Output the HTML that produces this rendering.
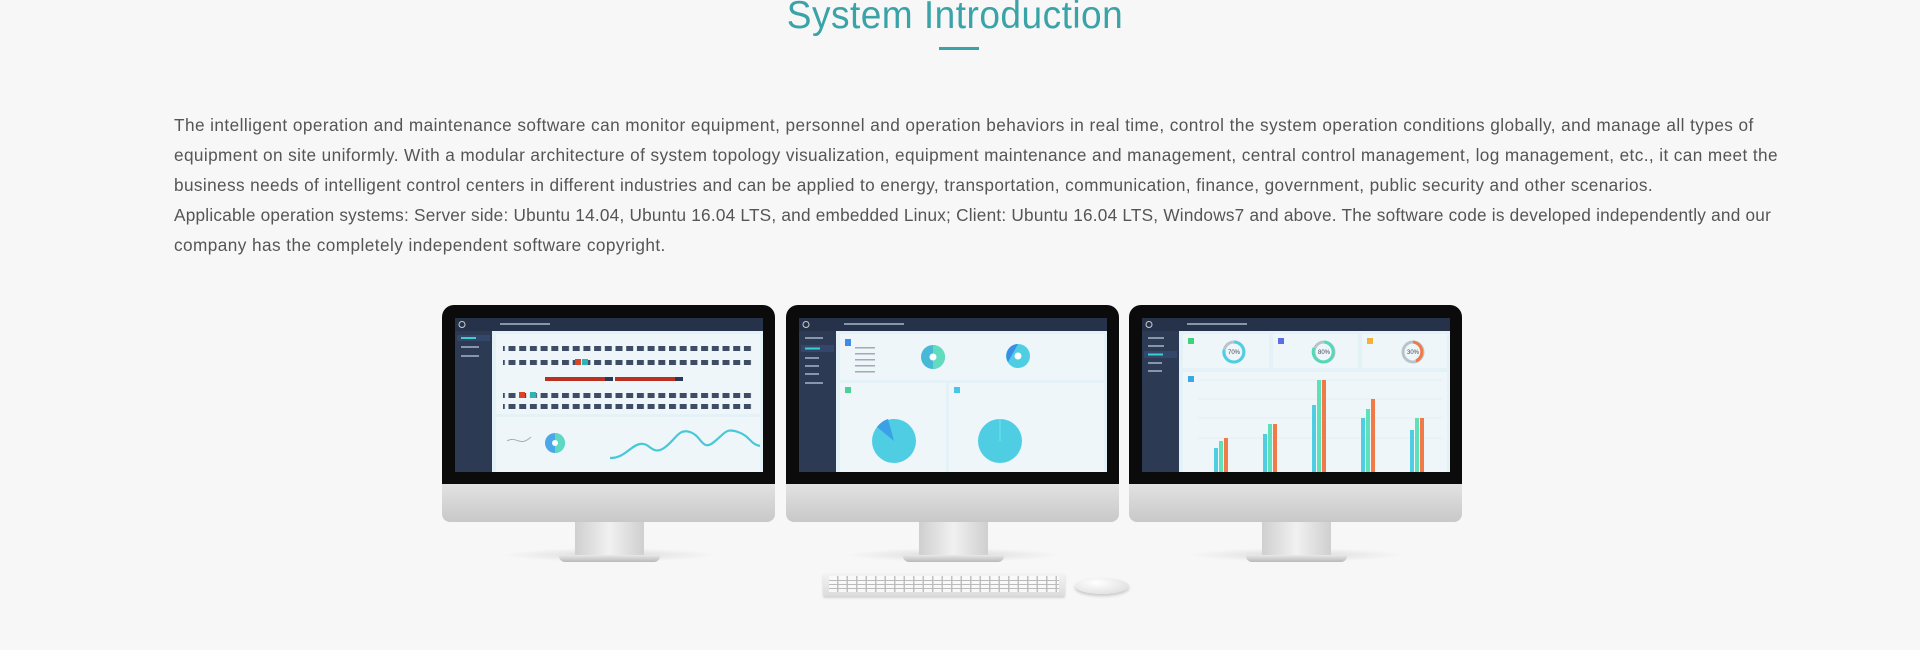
<!DOCTYPE html>
<html><head><meta charset="utf-8"><style>
*{margin:0;padding:0;box-sizing:border-box}
body{width:1920px;height:650px;background:#f7f7f7;position:relative;overflow:hidden;font-family:"Liberation Sans","Noto Sans CJK SC",sans-serif}
h1{position:absolute;left:0;width:1910px;top:-6px;text-align:center;font-weight:300;font-size:39px;color:#3aa3a8;letter-spacing:0.5px;font-family:"Liberation Sans",sans-serif;transform:scaleX(0.95)}
.ul{position:absolute;left:939px;top:47px;width:40px;height:3px;background:#3aa3a8}
.p{position:absolute;left:174px;top:110px;font-size:17.2px;line-height:30px;color:#555;white-space:nowrap}
.mon{position:absolute;top:305px;width:333px;height:260px}
.bez{position:absolute;left:0;top:0;width:333px;height:179px;background:#0b0b0c;border-radius:12px 12px 0 0}
.chin{position:absolute;left:0;top:179px;width:333px;height:38px;background:linear-gradient(#e2e2e2,#c8c8c8);border-radius:0 0 8px 8px}
.neck{position:absolute;left:133px;top:217px;width:69px;height:34px;background:linear-gradient(90deg,#cfcfcf,#f1f1f1 50%,#cfcfcf)}
.base{position:absolute;left:117px;top:250px;width:101px;height:7px;background:linear-gradient(#e8e8e8,#b9b9b9);border-radius:0 0 6px 6px}
.shadow{position:absolute;left:60px;top:243px;width:215px;height:14px;background:radial-gradient(ellipse,rgba(0,0,0,.12),rgba(0,0,0,0) 70%)}
.scr{position:absolute;left:13px;top:13px;width:308px;height:154px;background:#e4f1f7;overflow:hidden}
</style></head><body>
<h1>System Introduction</h1>
<div class="ul"></div>
<div class="p">
<div style="letter-spacing:0.44px">The intelligent operation and maintenance software can monitor equipment, personnel and operation behaviors in real time, control the system operation conditions globally, and manage all types of</div>
<div style="letter-spacing:0.40px">equipment on site uniformly. With a modular architecture of system topology visualization, equipment maintenance and management, central control management, log management, etc., it can meet the</div>
<div style="letter-spacing:0.39px">business needs of intelligent control centers in different industries and can be applied to energy, transportation, communication, finance, government, public security and other scenarios.</div>
<div style="letter-spacing:0.23px">Applicable operation systems: Server side: Ubuntu 14.04, Ubuntu 16.04 LTS, and embedded Linux; Client: Ubuntu 16.04 LTS, Windows7 and above. The software code is developed independently and our</div>
<div style="letter-spacing:0.44px">company has the completely independent software copyright.</div>
</div>

<!-- Monitor 1 -->
<div class="mon" style="left:442px">
<div class="shadow"></div>
<div class="bez"></div><div class="chin"></div><div class="neck"></div><div class="base"></div>
<div class="scr"><svg width="308" height="154" viewBox="0 0 308 154">
<rect width="308" height="13" fill="#26324a"/><rect y="13" width="37" height="141" fill="#2c3a54"/>
<circle cx="7" cy="6.5" r="3" fill="none" stroke="#ccc"/><rect x="45" y="5" width="50" height="2" fill="#8895aa"/>
<rect x="2" y="17" width="33" height="6" fill="#34476a"/><rect x="6" y="19" width="15" height="2" fill="#3ccfd0"/>
<rect x="6" y="28" width="18" height="2" fill="#8895aa"/><rect x="6" y="37" width="18" height="2" fill="#8895aa"/>
<rect x="41" y="16" width="264" height="80" fill="#eef6fa"/>
<defs><pattern id="r" width="10.7" height="5" patternUnits="userSpaceOnUse"><rect width="7" height="5" fill="#3e4c66"/></pattern></defs>
<rect x="48" y="28" width="250" height="5" fill="url(#r)"/>
<rect x="48" y="42" width="250" height="5" fill="url(#r)"/>
<rect x="48" y="75" width="250" height="5" fill="url(#r)"/>
<rect x="48" y="86" width="250" height="5" fill="url(#r)"/>
<rect x="120" y="41" width="6" height="6" fill="#d9452b"/><rect x="127" y="41" width="6" height="6" fill="#2fb3b3"/>
<rect x="64" y="74" width="6" height="6" fill="#d9452b"/><rect x="75" y="74" width="6" height="6" fill="#2fb3b3"/>
<rect x="90" y="59" width="60" height="4" fill="#b8321f"/><rect x="150" y="59" width="8" height="4" fill="#2b3a54"/>
<rect x="160" y="59" width="60" height="4" fill="#b8321f"/><rect x="220" y="59" width="8" height="4" fill="#2b3a54"/>
<rect x="41" y="99" width="264" height="55" fill="#eef6fa"/>
<circle cx="100" cy="125" r="10" fill="#4aa7e8"/><path d="M100 115a10 10 0 0 1 0 20z" fill="#5ed8c0"/><circle cx="100" cy="125" r="3" fill="#fff"/>
<path d="M52 123c10-6 12 7 24-4" stroke="#aaa" fill="none"/>
<path d="M155 140c15 0 20-12 30-14s12 12 24 4 14-20 26-16 12 20 24 10 12-14 24-10 12 12 22 14" stroke="#45c8d8" stroke-width="2.2" fill="none"/>
</svg></div>
</div>

<!-- Monitor 2 -->
<div class="mon" style="left:786px">
<div class="shadow"></div>
<div class="bez"></div><div class="chin"></div><div class="neck"></div><div class="base"></div>
<div class="scr"><svg width="308" height="154" viewBox="0 0 308 154">
<rect width="308" height="13" fill="#26324a"/><rect y="13" width="37" height="141" fill="#2c3a54"/>
<circle cx="7" cy="6.5" r="3" fill="none" stroke="#ccc"/><rect x="45" y="5" width="60" height="2" fill="#8895aa"/>
<rect x="6" y="19" width="18" height="2" fill="#8895aa"/><rect x="2" y="27" width="33" height="7" fill="#34476a"/><rect x="6" y="29.5" width="15" height="2" fill="#3ccfd0"/>
<rect x="6" y="39" width="14" height="2" fill="#8895aa"/><rect x="6" y="47" width="14" height="2" fill="#8895aa"/><rect x="6" y="55" width="14" height="2" fill="#8895aa"/><rect x="6" y="64" width="18" height="2" fill="#8895aa"/>
<rect x="41" y="16" width="264" height="46" fill="#eef6fa"/>
<rect x="46" y="21" width="6" height="7" fill="#3a8ee8"/>
<g fill="#a0aab8"><rect x="56" y="29" width="20" height="1.5"/><rect x="56" y="35" width="20" height="1.5"/><rect x="56" y="41" width="20" height="1.5"/><rect x="56" y="47" width="20" height="1.5"/><rect x="56" y="53" width="20" height="1.5"/></g>
<circle cx="134" cy="39" r="12" fill="#47b8d6"/><path d="M134 27a12 12 0 0 1 0 24z" fill="#62dcbf"/><circle cx="134" cy="39" r="3.5" fill="#fff"/>
<circle cx="219" cy="38" r="12" fill="#4fcde3"/><path d="M219 26a12 12 0 0 0-10 18z" fill="#3a8ee8"/><circle cx="219" cy="38" r="3.5" fill="#fff"/>
<rect x="41" y="65" width="106" height="89" fill="#eef6fa"/><rect x="150" y="65" width="155" height="89" fill="#eef6fa"/>
<rect x="46" y="69" width="6" height="6" fill="#4ecf96"/><rect x="155" y="69" width="6" height="6" fill="#45c8e8"/>
<circle cx="95" cy="123" r="22" fill="#4fcde3"/><path d="M95 123L78 109a22 22 0 0 1 11-8z" fill="#3aa0e8"/>
<circle cx="201" cy="123" r="22" fill="#4fcde3"/><line x1="201" y1="101" x2="201" y2="123" stroke="#8fe" stroke-width=".5"/>
</svg></div>
</div>

<!-- Monitor 3 -->
<div class="mon" style="left:1129px">
<div class="shadow"></div>
<div class="bez"></div><div class="chin"></div><div class="neck"></div><div class="base"></div>
<div class="scr"><svg width="308" height="154" viewBox="0 0 308 154">
<rect width="308" height="13" fill="#26324a"/><rect y="13" width="37" height="141" fill="#2c3a54"/>
<circle cx="7" cy="6.5" r="3" fill="none" stroke="#ccc"/><rect x="45" y="5" width="60" height="2" fill="#8895aa"/>
<rect x="6" y="19" width="16" height="2" fill="#8895aa"/><rect x="6" y="27" width="16" height="2" fill="#8895aa"/>
<rect x="2" y="33" width="33" height="7" fill="#34476a"/><rect x="6" y="35.5" width="15" height="2" fill="#3ccfd0"/>
<rect x="6" y="44" width="14" height="2" fill="#8895aa"/><rect x="6" y="52" width="14" height="2" fill="#8895aa"/>
<rect x="41" y="16" width="86" height="34" fill="#eef6fa"/><rect x="131" y="16" width="85" height="34" fill="#eef6fa"/><rect x="220" y="16" width="85" height="34" fill="#eef6fa"/>
<rect x="46" y="20" width="6" height="6" fill="#3fd27a"/><rect x="136" y="20" width="6" height="6" fill="#5b6ee8"/><rect x="225" y="20" width="6" height="6" fill="#f2b23a"/>
<circle cx="92" cy="34" r="10" fill="none" stroke="#b8c4cc" stroke-width="3"/><path d="M92 24a10 10 0 1 1-10 8" fill="none" stroke="#4fcde3" stroke-width="3"/>
<circle cx="182" cy="34" r="10" fill="none" stroke="#b8c4cc" stroke-width="3"/><path d="M182 24a10 10 0 1 1-10 6" fill="none" stroke="#55d8b8" stroke-width="3"/>
<circle cx="271" cy="34" r="10" fill="none" stroke="#b8c4cc" stroke-width="3"/><path d="M271 24a10 10 0 0 1 3 19" fill="none" stroke="#f07a48" stroke-width="3"/>
<text x="92" y="36" font-size="6" text-anchor="middle" fill="#445">70%</text><text x="182" y="36" font-size="6" text-anchor="middle" fill="#445">80%</text><text x="271" y="36" font-size="6" text-anchor="middle" fill="#445">30%</text>
<rect x="41" y="54" width="264" height="100" fill="#eef6fa"/><rect x="46" y="58" width="6" height="6" fill="#3aa8e8"/>
<g stroke="#dde8ee" stroke-width=".5"><line x1="56" y1="62" x2="300" y2="62"/><line x1="56" y1="81" x2="300" y2="81"/><line x1="56" y1="100" x2="300" y2="100"/><line x1="56" y1="120" x2="300" y2="120"/></g>
<g><rect x="72" y="130" width="4" height="24" fill="#4fcde3"/><rect x="77" y="123" width="4" height="31" fill="#5ee0b8"/><rect x="82" y="120" width="4" height="34" fill="#f07a48"/>
<rect x="121" y="116" width="4" height="38" fill="#4fcde3"/><rect x="126" y="106" width="4" height="48" fill="#5ee0b8"/><rect x="131" y="106" width="4" height="48" fill="#f07a48"/>
<rect x="170" y="87" width="4" height="67" fill="#4fcde3"/><rect x="175" y="62" width="4" height="92" fill="#5ee0b8"/><rect x="180" y="62" width="4" height="92" fill="#f07a48"/>
<rect x="219" y="100" width="4" height="54" fill="#4fcde3"/><rect x="224" y="91" width="4" height="63" fill="#5ee0b8"/><rect x="229" y="81" width="4" height="73" fill="#f07a48"/>
<rect x="268" y="112" width="4" height="42" fill="#4fcde3"/><rect x="273" y="100" width="4" height="54" fill="#5ee0b8"/><rect x="278" y="100" width="4" height="54" fill="#f07a48"/></g>
</svg></div>
</div>

<!-- keyboard & mouse -->
<div style="position:absolute;left:823px;top:573px;width:242px;height:23px;background:linear-gradient(#f4f4f4,#dcdcdc);border-radius:2px;box-shadow:0 2px 2px rgba(0,0,0,.15)">
<div style="position:absolute;left:6px;top:3px;width:230px;height:16px;background:repeating-linear-gradient(90deg,#fbfbfb 0 8px,#bdbdbd 8px 9.5px),#fff;opacity:.9"></div>
<div style="position:absolute;left:6px;top:7px;width:230px;height:1px;background:#bbb"></div>
<div style="position:absolute;left:6px;top:11px;width:230px;height:1px;background:#bbb"></div>
<div style="position:absolute;left:6px;top:15px;width:230px;height:1px;background:#bbb"></div>
</div>
<div style="position:absolute;left:1075px;top:578px;width:54px;height:16px;background:radial-gradient(ellipse at 40% 30%,#fff,#d8d8d8);border-radius:50%;box-shadow:0 2px 3px rgba(0,0,0,.2)"></div>
</body></html>
